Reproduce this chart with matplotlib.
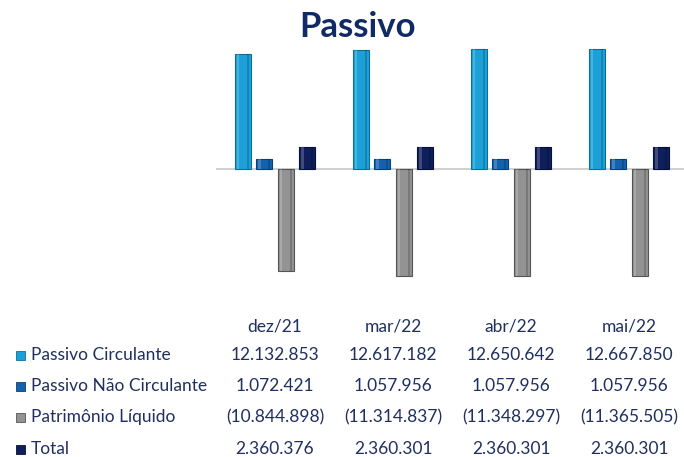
import matplotlib
matplotlib.use("Agg")
import matplotlib.pyplot as plt
from matplotlib.patches import Rectangle
import numpy as np

periods = ["dez/21", "mar/22", "abr/22", "mai/22"]
series = ["Passivo Circulante", "Passivo Não Circulante", "Patrimônio Líquido", "Total"]
passivo_circulante = [12132853, 12617182, 12650642, 12667850]
passivo_nao_circulante = [1072421, 1057956, 1057956, 1057956]
patrimonio_liquido = [-10844898, -11314837, -11348297, -11365505]
total = [2360376, 2360301, 2360301, 2360301]

colors = ["#1BA1D8", "#1462AE", "#939393", "#0E1F5B"]
edges = ["#0E6E9A", "#0B3F78", "#555555", "#06103A"]
text_color = "#1F2F5F"
FONT = ["Lato", "DejaVu Sans"]

def fmt(v):
    s = f"{abs(v):,}".replace(",", ".")
    return f"({s})" if v < 0 else s

W, H = 684, 457
fig = plt.figure(figsize=(W / 100, H / 100), dpi=100)

ax_left, ax_right = 216, 688
ax_top, ax_bottom = 30, 300
ax = fig.add_axes([ax_left / W, 1 - ax_bottom / H, (ax_right - ax_left) / W, (ax_bottom - ax_top) / H])
ax.set_xlim(-0.5, 3.5)
px_per_unit = 9.45e-6
zero_y = 169
ax.set_ylim(-(ax_bottom - zero_y) / px_per_unit, (zero_y - ax_top) / px_per_unit)

data = [passivo_circulante, passivo_nao_circulante, patrimonio_liquido, total]
x = np.arange(len(periods))
bw = 16 / 118
step = 21.5 / 118
for i, vals in enumerate(data):
    offs = (i - 1.5) * step
    ax.bar(x + offs, vals, width=bw, color=colors[i], edgecolor=edges[i], linewidth=0.8, zorder=3)
    ax.bar(x + offs - bw * 0.3, vals, width=bw * 0.15, color="white", alpha=0.2, linewidth=0, zorder=4)
    ax.bar(x + offs + bw * 0.32, vals, width=bw * 0.12, color="black", alpha=0.18, linewidth=0, zorder=4)

ax.axhline(0, color="#C8C8C8", linewidth=1.2, zorder=2)
ax.set_axis_off()
ax.patch.set_visible(False)

fig.text(358 / W, 1 - 27 / H, "Passivo", ha="center", va="center", fontsize=25,
         fontweight="bold", color="#102A66", family=FONT)

col_x = [275, 393, 511, 629]
header_y = 326
row_y = [355, 386, 417, 449]
fs = 12.5
for cx, p in zip(col_x, periods):
    fig.text(cx / W, 1 - header_y / H, p, ha="center", va="center", fontsize=fs, color=text_color, family=FONT)
for r, (name, vals) in enumerate(zip(series, data)):
    yy = 1 - row_y[r] / H
    fig.patches.append(Rectangle((16 / W, yy - 4.5 / H), 9 / W, 9 / H, transform=fig.transFigure,
                                 facecolor=colors[r], edgecolor=edges[r], linewidth=0.6))
    fig.text(31 / W, yy, name, ha="left", va="center", fontsize=fs, color=text_color, family=FONT)
    for cx, v in zip(col_x, vals):
        fig.text(cx / W, yy, fmt(v), ha="center", va="center", fontsize=fs, color=text_color, family=FONT)

fig.savefig("out.png", dpi=100)
